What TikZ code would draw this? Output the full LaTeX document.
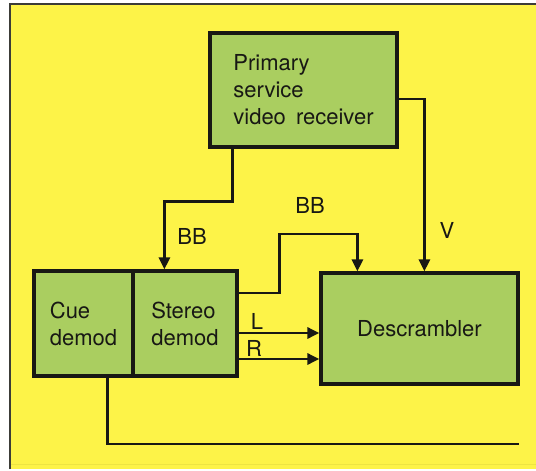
\documentclass[tikz,border=0pt]{standalone}
\usepackage{fontspec}
\setmainfont{TeX Gyre Heros}
\usetikzlibrary{arrows.meta}
\definecolor{bgyellow}{RGB}{253,243,72}
\definecolor{boxgreen}{RGB}{170,206,96}
\definecolor{inkc}{RGB}{24,24,20}
\definecolor{framec}{RGB}{60,60,55}
\begin{document}
\begin{tikzpicture}[x=1pt,y=-1pt,
  every node/.style={font=\fontsize{22}{27}\selectfont, text=inkc},
  blockbox/.style={draw=inkc, fill=boxgreen, line width=3.2pt, inner sep=0pt, align=left},
  wire/.style={draw=inkc, line width=2.8pt},
  arr/.style={wire, -{Triangle[length=12pt,width=11pt]}},
  lbl/.style={inner sep=0pt}
]
\useasboundingbox (0,0) rectangle (536,471);
% background and frame
\fill[white] (0,0) rectangle (536,471);
\fill[bgyellow] (10,4) rectangle (536,469);
\draw[framec, line width=2pt] (10,469) -- (10,4) -- (536,4);
\draw[bgyellow!85!black, line width=0.6pt, opacity=0.4] (11,464) -- (536,464);

% blocks
\node[blockbox, minimum width=187pt, minimum height=114pt] (primary) at (303.5,90)
  {Primary\\service\\video\hspace{0.18em} receiver};
\node[blockbox, minimum width=99pt, minimum height=105pt] (cue) at (83.5,323.5)
  {Cue\\demod};
\node[blockbox, minimum width=104pt, minimum height=105pt] (stereo) at (185,323.5)
  {Stereo\\demod};
\node[blockbox, minimum width=197pt, minimum height=111pt] (descr) at (419.5,328.5)
  {Descrambler};

% connectors
\draw[arr] ([xshift=24pt]primary.south west) -- ++(0,53) -| ([xshift=33pt]stereo.north west);
\draw[arr] ([yshift=-9pt]primary.east) -| ([xshift=105pt]descr.north west);
\draw[arr] ([yshift=30.5pt]stereo.east) -- ++(41,0) -- ++(0,-59) -| ([xshift=38pt]descr.north west);
\draw[arr] ([yshift=-9.5pt]stereo.east) coordinate (lstart) -- (lstart -| descr.west);
\draw[arr] ([yshift=-35.5pt]stereo.east) coordinate (rstart) -- (rstart -| descr.west);
\coordinate (cueout) at (519,444);
\draw[wire] ([xshift=75pt]cue.south west) |- (cueout);

% labels
\node[lbl] (bb1) at (192,236) {BB};
\node[lbl] (bb2) at (310,205) {BB};
\node[lbl] (vl) at (447,230) {V};
\node[lbl] (ll) at (257,321) {L};
\node[lbl] (rl) at (254,348) {R};
\end{tikzpicture}
\end{document}
